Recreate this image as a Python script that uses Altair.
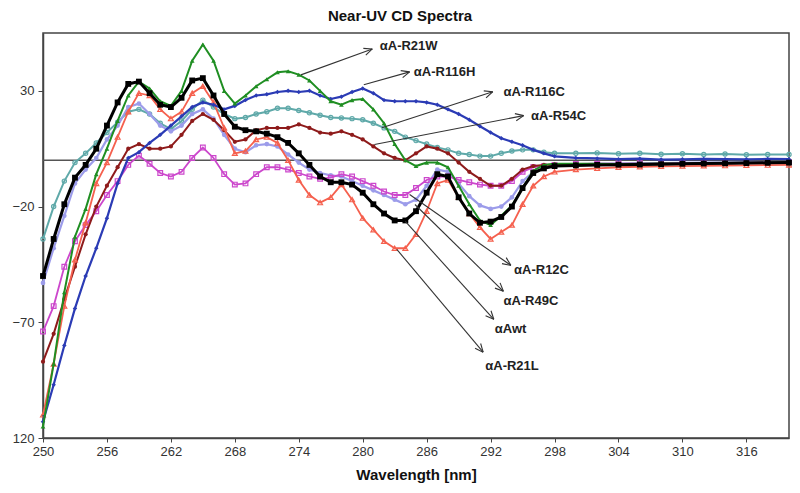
import math
import altair as alt
import pandas as pd

# ---------------- data ----------------
wavelength = list(range(250, 299)) + list(range(300, 321, 2))

wt = [-50, -34, -19, -7.5, -2, 5, 15, 25, 33, 34, 29, 24, 23, 27, 34.5, 35.5, 28, 20, 14.5, 13,
      12.5, 11.5, 10, 7.5, 3, -2, -7, -9.5, -9.5, -10.5, -14, -19, -23, -26, -26, -22, -14, -6, -7, -16,
      -23, -27, -26.5, -24.5, -20, -12, -5.5, -3.5, -2.5,
      -2.2, -2.0, -1.9, -1.8, -1.7, -1.5, -1.4, -1.3, -1.2, -1.1, -1.0]
r21w = [-115, -88, -57, -33, -21, -6, 5, 17, 28, 34, 31, 25.5, 23.5, 30, 43, 50, 43, 30, 24.5, 28,
        32, 35, 38, 38.5, 37, 34.5, 30, 25.5, 24, 26, 26.5, 22, 16, 7, 0, -2.5, -1, -1, -3, -11,
        -19, -26, -28, -24, -19.5, -12, -4.5, -2, -1.5,
        -1.5, -1.5, -1.6, -1.5, -1.4, -1.5, -1.3, -1.2, -1.1, -1.0, -1.0]
r116h = [-113, -97, -80, -64, -50, -38, -25, -10, 1, 3.5, 7.5, 11, 15, 19, 23, 25, 24, 22, 23.5, 26,
         28, 28.5, 29.5, 30, 29.5, 30, 28, 26.5, 27.5, 29.5, 31, 29, 26, 25.5, 25.5, 25.5, 25, 24, 22, 20,
         17.5, 14.7, 12, 9.5, 8, 6.5, 4.5, 3, 1.7,
         1.0, 0.8, 0.5, 0.7, 0.3, 0.4, 0.6, 0.5, 0.4, 0.6, 0.5]
r116c = [-34, -20, -9, -1, 3, 7.5, 12, 16.5, 21, 22, 20, 16, 13.5, 17, 22, 26, 23, 20, 18, 18.5,
         20, 21, 22.5, 22.5, 21.5, 20.5, 19.5, 18.5, 18.3, 18, 17.5, 16, 14, 12.5, 10, 8.5, 7, 5.5, 4.5, 3,
         2.5, 1.8, 1.8, 3, 4, 4.5, 4.5, 3.5, 3,
         3.0, 3.2, 2.8, 3.0, 2.6, 2.8, 2.5, 2.7, 2.4, 2.5, 2.5]
r54c = [-87, -75, -60, -46, -32, -20, -11, -3, 5, 7, 5, 5, 6, 11, 17, 20, 17.5, 13, 8, 9,
        13, 14, 14, 14, 15.5, 14, 12, 11.5, 12.5, 11, 9, 6, 3, 1, 0, 3, 6, 5, 3, -1,
        -5, -8, -11, -11, -8, -4, -2.5, -2, -1.8,
        -1.8, -2.0, -1.6, -1.9, -1.4, -1.7, -1.3, -1.5, -1.2, -1.3, -1.0]
r12c = [-74, -63, -46, -35, -28, -22, -15, -9, -2, 2, -1.5, -5.5, -7, -5, 1, 5.5, 1, -6, -10.5, -10,
        -6, -3, -3, -4, -5.5, -7, -8, -7.5, -6, -7, -9, -11, -13.5, -15, -15, -12, -8.5, -7, -7, -8.5,
        -9.5, -10.5, -11, -11, -9, -5, -3, -2.5, -2,
        -1.6, -1.5, -1.4, -1.3, -1.3, -1.2, -1.1, -1.1, -1.0, -0.9, -0.8]
r49c = [-53, -38, -24, -10, -4, 1, 9, 15, 23, 24.5, 20, 15, 12.5, 15, 20, 22, 18, 11, 5, 3.5,
        6.5, 7, 6, 2.5, -1, -4, -5.5, -6.5, -7, -9, -11, -13, -15, -17, -19, -17, -11, -4, -5, -10,
        -15.5, -19.5, -21, -20, -16, -9, -5, -3.5, -2.5,
        -1.8, -1.5, -1.4, -1.3, -1.2, -1.1, -1.0, -1.0, -0.9, -0.8, -0.8]
r21l = [-110, -88, -63, -43, -27, -10, -1, 10, 21, 29, 28, 22, 18, 21, 29, 32, 25, 14, 3, 4,
        9, 10, 7.5, 0, -8.5, -15, -18.3, -16, -10.5, -17, -25, -30, -35, -38, -38, -32, -22, -10, -8.5, -16,
        -23, -29, -34, -31, -28, -19, -11, -7, -5,
        -4.0, -3.5, -3.0, -2.8, -2.6, -2.5, -2.4, -2.3, -2.2, -2.1, -2.0]

# drawing order (first = bottom)
series_names = ["αA-R116C", "αA-R49C", "αA-R12C", "αA-R54C", "αA-R21L", "αA-R116H", "αA-R21W", "αAwt"]
series_values = [r116c, r49c, r12c, r54c, r21l, r116h, r21w, wt]
series_colors = ["#5FA9A9", "#9C9CEA", "#CC47CC", "#8E1B1B", "#F5604E", "#2B3BB5", "#1F8E22", "#000000"]
series_shapes = ["circle", "circle", "square", "circle", "triangle-up", "diamond", "triangle-up", "square"]
series_filled = [False, True, False, True, False, True, True, True]
series_sizes = [18, 22, 22, 18, 24, 20, 22, 34]
series_widths = [2.0, 2.2, 1.8, 2.0, 1.8, 2.2, 2.0, 3.0]

# annotation labels: arrow tail (x, y), arrow tip (x, y), label anchor (x, y)
label_texts = ["αA-R21W", "αA-R116H", "αA-R116C", "αA-R54C", "αA-R12C", "αA-R49C", "αAwt", "αA-R21L"]
arrow_x1 = [274.2, 280.1, 281.8, 281.1, 284.4, 284.9, 284.0, 283.2]
arrow_y1 = [36.9, 32.6, 14.1, 6.8, -14.8, -19.1, -26.4, -38.5]
arrow_x2 = [280.9, 284.4, 292.2, 295.1, 293.9, 293.2, 292.3, 291.3]
arrow_y2 = [48.1, 38.2, 29.6, 19.3, -45.4, -56.6, -68.7, -82.9]
label_x = [281.6, 284.8, 293.2, 295.8, 294.2, 293.2, 292.4, 291.5]
label_y = [49.4, 38.2, 29.6, 19.3, -47.5, -61.0, -73.0, -89.0]

x_ticks = list(range(250, 317, 6))
y_ticks = [-120, -70, -20, 30]
x_domain = [250, 320]
y_domain = [-120, 55]

# ---------------- chart ----------------
W, H = 746, 405
FONT = "Liberation Sans"

X = alt.X("wl:Q", scale=alt.Scale(domain=x_domain, nice=False, zero=False),
          axis=alt.Axis(values=x_ticks, title="Wavelength [nm]", grid=False, tickSize=4,
                        labelFontSize=13, titleFontSize=15, titleFontWeight="bold",
                        labelPadding=3, titlePadding=9, labelFlush=False))
Y = alt.Y("v:Q", scale=alt.Scale(domain=y_domain, nice=False, zero=False),
          axis=alt.Axis(values=y_ticks, title=None, grid=False, tickSize=5, labelFontSize=13,
                        labelPadding=4, labelFlush=False,
                        labelExpr="datum.value == -120 ? '120' : datum.label"))

layers = []
zero = alt.Chart(pd.DataFrame({"v": [0]})).mark_rule(color="#555555", strokeWidth=1.5).encode(y=alt.Y("v:Q"))
layers.append(zero)

for name, vals, col, shp, fil, sz, lw in zip(series_names, series_values, series_colors,
                                              series_shapes, series_filled, series_sizes, series_widths):
    d = pd.DataFrame({"wl": wavelength, "v": vals, "s": name})
    layers.append(alt.Chart(d).mark_line(color=col, strokeWidth=lw).encode(x=X, y=Y))
    layers.append(alt.Chart(d).mark_point(shape=shp, filled=fil, size=sz, color=col,
                                          strokeWidth=1.2, opacity=1).encode(x=X, y=Y))

# arrows (shafts + open heads)
pxx = W / (x_domain[1] - x_domain[0])
pxy = H / (y_domain[1] - y_domain[0])
seg = {"x": [], "y": [], "x2": [], "y2": []}
L, A = 9.0, math.radians(24)
for x1, y1, x2, y2 in zip(arrow_x1, arrow_y1, arrow_x2, arrow_y2):
    seg["x"].append(x1); seg["y"].append(y1); seg["x2"].append(x2); seg["y2"].append(y2)
    dx = (x2 - x1) * pxx
    dy = -(y2 - y1) * pxy
    th = math.atan2(dy, dx)
    for s in (1, -1):
        hx = -L * math.cos(th + s * A)
        hy = -L * math.sin(th + s * A)
        seg["x"].append(x2 + hx / pxx)
        seg["y"].append(y2 - hy / pxy)
        seg["x2"].append(x2); seg["y2"].append(y2)
arrows = alt.Chart(pd.DataFrame(seg)).mark_rule(color="#333333", strokeWidth=1.1).encode(
    x="x:Q", y="y:Q", x2="x2:Q", y2="y2:Q")
layers.append(arrows)

labels = alt.Chart(pd.DataFrame({"x": label_x, "y": label_y, "t": label_texts})).mark_text(
    align="left", baseline="middle", fontSize=13, fontWeight="bold", font=FONT, color="#222222"
).encode(x="x:Q", y="y:Q", text="t:N")
layers.append(labels)

chart = alt.layer(*layers).properties(
    width=W, height=H,
    title=alt.Title("Near-UV CD Spectra", fontSize=15, fontWeight="bold", font=FONT,
                    color="#111111", dx=-16, offset=9),
    autosize=alt.AutoSizeParams(type="none"),
    padding={"left": 35, "top": 25, "right": 3, "bottom": 47},
).configure_view(stroke="#444444", strokeWidth=1.5).configure_axis(
    labelFont=FONT, titleFont=FONT, labelColor="#333333", titleColor="#111111",
    domainColor="#444444", tickColor="#444444", domainWidth=1.5
)

chart.save("out.html", embed_options={"renderer": "svg", "actions": False})
